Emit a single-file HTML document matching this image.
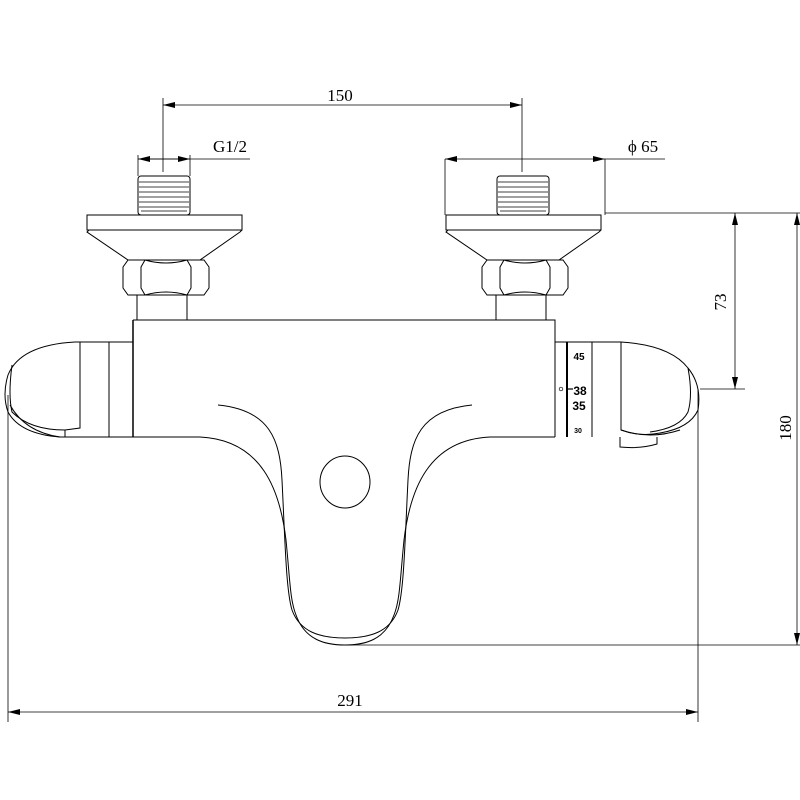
<!DOCTYPE html>
<html><head><style>html,body{margin:0;padding:0;background:#fff}svg{display:block}</style></head>
<body>
<svg width="800" height="800" viewBox="0 0 800 800" xmlns="http://www.w3.org/2000/svg" font-family="Liberation Serif, serif">
<defs>
<marker id="a" markerWidth="12" markerHeight="6" refX="12" refY="3" orient="auto" markerUnits="userSpaceOnUse"><path d="M0,0 L12,3 L0,6 z" fill="#000"/></marker>
<marker id="b" markerWidth="12" markerHeight="6" refX="0" refY="3" orient="auto" markerUnits="userSpaceOnUse"><path d="M12,0 L0,3 L12,6 z" fill="#000"/></marker>
</defs>
<g fill="none" stroke="#000" stroke-width="1">
<line x1="163" y1="105" x2="522" y2="105" stroke-width="0.8" marker-start="url(#b)" marker-end="url(#a)"/>
<line x1="163" y1="98" x2="163" y2="172" stroke-width="0.8"/>
<line x1="522" y1="98" x2="522" y2="172" stroke-width="0.8"/>
<line x1="138" y1="159" x2="250" y2="159" stroke-width="0.8"/>
<line x1="138" y1="159" x2="190" y2="159" stroke-width="0.8" marker-start="url(#b)" marker-end="url(#a)"/>
<line x1="138" y1="155" x2="138" y2="176" stroke-width="0.8"/>
<line x1="190" y1="155" x2="190" y2="176" stroke-width="0.8"/>
<line x1="445" y1="159" x2="605" y2="159" stroke-width="0.8" marker-start="url(#b)" marker-end="url(#a)"/>
<line x1="605" y1="159" x2="665" y2="159" stroke-width="0.8"/>
<line x1="445" y1="159" x2="445" y2="215" stroke-width="0.8"/>
<line x1="605" y1="159" x2="605" y2="215" stroke-width="0.8"/>
<line x1="605" y1="213" x2="800" y2="213" stroke-width="0.8"/>
<line x1="735" y1="213" x2="735" y2="389" stroke-width="0.8" marker-start="url(#b)" marker-end="url(#a)"/>
<line x1="700" y1="389" x2="745" y2="389" stroke-width="0.8"/>
<line x1="797" y1="213" x2="797" y2="645" stroke-width="0.8" marker-start="url(#b)" marker-end="url(#a)"/>
<line x1="345" y1="645" x2="800" y2="645" stroke-width="0.8"/>
<line x1="8" y1="712" x2="698" y2="712" stroke-width="0.8" marker-start="url(#b)" marker-end="url(#a)"/>
<line x1="8" y1="395" x2="8" y2="722" stroke-width="0.8"/>
<line x1="698" y1="389" x2="698" y2="722" stroke-width="0.8"/>

<g id="fit">
<rect x="138" y="176" width="52" height="39" rx="3"/>
<g stroke-width="0.7">
<line x1="139" y1="182" x2="189" y2="182"/><line x1="139" y1="187" x2="189" y2="187"/><line x1="139" y1="192" x2="189" y2="192"/><line x1="139" y1="197" x2="189" y2="197"/><line x1="139" y1="202" x2="189" y2="202"/><line x1="139" y1="207" x2="189" y2="207"/><line x1="141" y1="211" x2="187" y2="211"/>
</g>
<rect x="87" y="215" width="155" height="15"/>
<path d="M89,230 L87,232 L128,260 L200,260 L240,232 L242,230"/>
<path d="M128,260 L204,260 L209,267 L209,288 L204,295 L128,295 L123,288 L123,267 z"/>
<path d="M145,260 L141,267 L141,288 L145,295 M187,260 L191,267 L191,288 L187,295 M145,260 Q166,266 187,260 M145,295 Q166,289 187,295"/>
<rect x="137" y="295" width="50" height="25"/>
</g>
<use href="#fit" x="359"/>
<path d="M133,320 L555,320 L555,437"/>
<line x1="133" y1="320" x2="133" y2="437" stroke-width="1.5"/>
<path d="M133,342 L75,342 Q20,345 8,375 Q2,395 8,412 Q20,434 60,437 L133,437"/>
<path d="M12,365 Q8,395 12,412 Q30,430 65,430 L80,428 L80,342"/>
<path d="M10,405 Q25,432 60,437"/>
<line x1="109" y1="342" x2="109" y2="437"/>
<path d="M65,430 L65,437"/>
<line x1="567" y1="342" x2="567" y2="437" stroke-width="2"/>
<line x1="555" y1="342" x2="621" y2="342"/>
<line x1="592" y1="342" x2="592" y2="437"/>
<path d="M621,342 Q670,345 688,368 Q702,385 698,410 Q690,428 660,433 Q640,437 621,430 L621,342"/>
<path d="M688,368 Q693,395 688,412 Q680,428 650,432"/>
<path d="M621,430 Q650,440 680,430"/>
<path d="M620,437 L620,447 Q640,449 657,444 L657,437"/>
<circle cx="561" cy="389" r="1.8" stroke-width="0.7"/>
<line x1="567" y1="389" x2="573" y2="389" stroke-width="1.2"/>
<path d="M133,437 L200,437 C262,440 280,490 286,540 C290,580 290,600 296,615 C305,640 325,645 345,645 C365,645 385,640 394,615 C400,600 400,580 404,540 C410,490 428,440 490,437 L555,437"/>
<path d="M218,405 C270,410 280,440 282,480 C285,540 286,590 292,610 C300,632 320,638 345,638 C370,638 390,632 398,610 C404,590 405,540 408,480 C410,440 420,410 472,405"/>
<ellipse cx="345" cy="482" rx="25" ry="26"/>
</g>
<g fill="#000">
<text x="340" y="101" font-size="17" text-anchor="middle">150</text>
<text x="230" y="152" font-size="17" text-anchor="middle">G1/2</text>
<text x="643" y="152" font-size="17" text-anchor="middle">ϕ 65</text>
<text x="350" y="706" font-size="17" text-anchor="middle">291</text>
<text x="0" y="0" font-size="17" text-anchor="middle" transform="translate(726,302) rotate(-90)">73</text>
<text x="0" y="0" font-size="17" text-anchor="middle" transform="translate(791,428) rotate(-90)">180</text>
<g font-family="Liberation Sans, sans-serif" font-weight="bold" text-anchor="middle">
<text x="579" y="360" font-size="10">45</text>
<text x="580" y="395" font-size="12">38</text>
<text x="579" y="410" font-size="12">35</text>
<text x="578" y="433" font-size="7">30</text>
</g>
</g>
</svg>
</body></html>
